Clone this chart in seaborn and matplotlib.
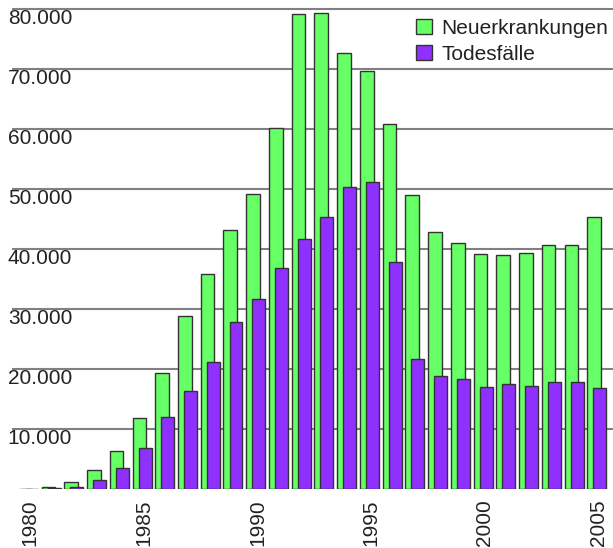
import pandas as pd
import numpy as np
import seaborn as sns
import matplotlib.pyplot as plt
from matplotlib.ticker import FuncFormatter

# daten
years = list(range(1980, 2006))
neu = [80, 330, 1170, 3170, 6330, 11930, 19330, 28930, 35930, 43220,
       49270, 60270, 79220, 79430, 72770, 69720, 60830, 49130, 42930, 41100,
       39270, 39050, 39380, 40670, 40670, 45430]
tod = [30, 150, 430, 1550, 3500, 6930, 12100, 16430, 21170, 27880,
       31670, 36930, 41670, 45430, 50380, 51170, 37880, 21770, 18930, 18380,
       17050, 17600, 17220, 17880, 17920, 16880]
yticks = [10000, 20000, 30000, 40000, 50000, 60000, 70000, 80000]
xticks = [1980, 1985, 1990, 1995, 2000, 2005]

df = pd.DataFrame({'Jahr': years, 'Neuerkrankungen': neu, 'Todesfälle': tod})

sns.set_style("white")
plt.rcParams['font.family'] = ['Liberation Sans', 'DejaVu Sans']
plt.rcParams['text.color'] = '#222222'

fig = plt.figure(figsize=(6.13, 5.48), dpi=100)
ax = fig.add_axes([12/613, (548-489.3)/548, 601/613, 489.3/548])

green = '#66ff66'
purple = '#9030ff'

sns.barplot(x=df['Jahr'] - 0.20, y=df['Neuerkrankungen'], native_scale=True,
            width=0.6, color=green, saturation=1, edgecolor='#333333',
            linewidth=1, label='Neuerkrankungen', ax=ax)
sns.barplot(x=df['Jahr'] + 0.05, y=df['Todesfälle'], native_scale=True,
            width=0.57, color=purple, saturation=1, edgecolor='#333333',
            linewidth=1, label='Todesfälle', ax=ax)

ax.set_xlim(1979.2, 2005.63)
ax.set_ylim(0, 81550)
ax.set_xlabel('')
ax.set_ylabel('')

for s in ax.spines.values():
    s.set_visible(False)

ax.set_axisbelow(True)
ax.set_yticks(yticks)
ax.yaxis.set_major_formatter(FuncFormatter(lambda v, p: f"{int(v):,}".replace(',', '.')))
ax.yaxis.grid(True, color='#808080', linewidth=1.5)
ax.xaxis.grid(False)
ax.tick_params(axis='y', length=0, pad=3, labelsize=15, labelcolor='#222222')
for lab in ax.get_yticklabels():
    lab.set_horizontalalignment('left')
    lab.set_verticalalignment('top')

ax.set_xticks(xticks)
ax.set_xticklabels([str(x) for x in xticks], rotation=90)
ax.tick_params(axis='x', length=0, pad=7, labelsize=15, labelcolor='#222222')

ax.legend(loc='upper right', bbox_to_anchor=(1.006, 0.979), frameon=False,
          fontsize=15, handlelength=0.75, handleheight=0.75,
          handletextpad=0.45, labelspacing=0.35, borderaxespad=0)

fig.savefig('out.png', dpi=100)
